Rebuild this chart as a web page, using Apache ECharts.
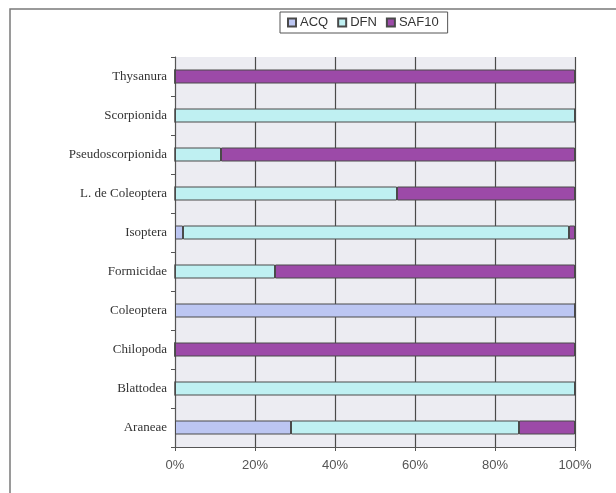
<!DOCTYPE html>
<html>
<head>
<meta charset="utf-8">
<script src="https://cdn.jsdelivr.net/npm/echarts@6/dist/echarts.min.js"></script>
<style>
html, body { margin: 0; padding: 0; background: #fff; }
#main { width: 616px; height: 493px; }
</style>
</head>
<body>
<div id="main"></div>
<script>
// categories top to bottom
var categories = ['Thysanura', 'Scorpionida', 'Pseudoscorpionida', 'L. de Coleoptera', 'Isoptera',
                  'Formicidae', 'Coleoptera', 'Chilopoda', 'Blattodea', 'Araneae'];
var acq   = [0, 0, 0, 0, 2, 0, 100, 0, 0, 29];
var dfn   = [0, 100, 11.5, 55.5, 96.5, 25, 0, 0, 100, 57];
var saf10 = [100, 0, 88.5, 44.5, 1.5, 75, 0, 100, 0, 14];
var xTicks = [0, 20, 40, 60, 80, 100];

var barBorder = { borderColor: '#4a4a4a', borderWidth: 1 };

var myChart = echarts.init(document.getElementById('main'));
var option = {
    animation: false,
    backgroundColor: '#fff',
    graphic: [{
        type: 'rect',
        shape: { x: 10, y: 9, width: 640, height: 520 },
        style: { fill: 'none', stroke: '#7a7a7a', lineWidth: 1.5 }
    }],
    legend: {
        left: 280, top: 12,
        itemWidth: 8, itemHeight: 8, itemGap: 9,
        icon: 'rect',
        padding: [4, 9, 4, 7],
        borderColor: '#555', borderWidth: 1,
        textStyle: { fontFamily: 'Liberation Sans', fontSize: 13, color: '#333', padding: [0, 0, 0, -1] },
        data: ['ACQ', 'DFN', 'SAF10']
    },
    grid: { left: 175, right: 41, top: 57, bottom: 46, containLabel: false,
            show: true, backgroundColor: '#ececf2', borderWidth: 0 },
    xAxis: {
        type: 'value', min: 0, max: 100, interval: 20,
        axisLine: { show: true, lineStyle: { color: '#555' } },
        axisTick: { show: true, length: 4, lineStyle: { color: '#555' } },
        splitLine: { show: true, lineStyle: { color: '#4a4a4a', width: 1.2 } },
        axisLabel: { margin: 12, fontFamily: 'Liberation Sans', fontSize: 13, color: '#555',
                     formatter: function (v) { return xTicks.indexOf(v) >= 0 ? v + '%' : ''; } }
    },
    yAxis: {
        type: 'category', inverse: true, data: categories,
        axisLine: { show: true, lineStyle: { color: '#555' } },
        axisTick: { show: true, length: 4, lineStyle: { color: '#555' } },
        axisLabel: { margin: 8, fontFamily: 'Liberation Serif', fontSize: 13, color: '#333' }
    },
    series: [
        { name: 'ACQ', type: 'bar', stack: 'all', barWidth: 14, data: acq,
          itemStyle: Object.assign({ color: '#bcc6f2' }, barBorder) },
        { name: 'DFN', type: 'bar', stack: 'all', barWidth: 14, data: dfn,
          itemStyle: Object.assign({ color: '#bff0f2' }, barBorder) },
        { name: 'SAF10', type: 'bar', stack: 'all', barWidth: 14, data: saf10,
          itemStyle: Object.assign({ color: '#9c4aa8' }, barBorder) }
    ]
};
myChart.setOption(option);
</script>
</body>
</html>
